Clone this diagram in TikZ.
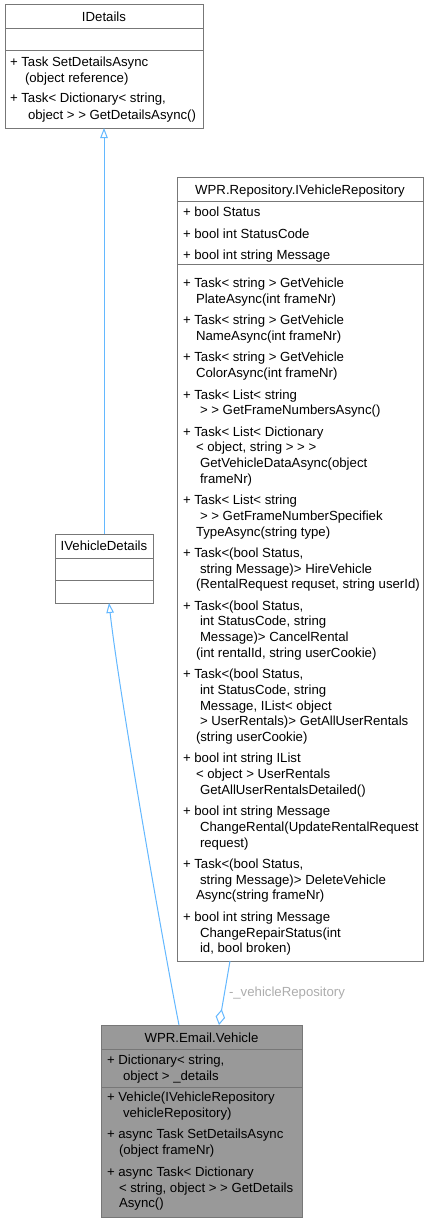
\documentclass[tikz,border=0pt]{standalone}
\usepackage{fontspec}
\setmainfont{Liberation Sans}
\usetikzlibrary{arrows.meta}
\definecolor{boxborder}{HTML}{777777}
\definecolor{edgeblue}{HTML}{63B8FF}
\definecolor{lblgray}{HTML}{ADADAD}
\definecolor{curfill}{HTML}{999999}
\newcommand\tline[4]{\node[anchor=base west] (#1) at (#2,{#3+4.7}) {#4};}
\newcommand\tcenter[4]{\node[anchor=base] (#1) at (#2,{#3+4.7}) {#4};}
\begin{document}
\begin{tikzpicture}[x=1pt,y=-1pt,
  every node/.style={font=\fontsize{13.2}{15}\selectfont, inner sep=0pt, outer sep=0pt},
  classbox/.style={draw=boxborder, line width=1pt, anchor=north west},
  sepline/.style={draw=boxborder, line width=1pt},
  inh/.style={draw=edgeblue, line width=1pt, -{Triangle[open, length=10pt, width=7.5pt, line width=1pt]}},
  agg/.style={draw=edgeblue, line width=1pt, -{Diamond[open, length=16pt, width=9.5pt, line width=1pt]}},
  lbl/.style={text=lblgray, anchor=west}
]
\useasboundingbox (0,0) rectangle (429,1223);
\fill[white] (0,0) rectangle (429,1223);

% ---------- IDetails ----------
\node[classbox, fill=white, minimum width=198pt, minimum height=123pt] (idetails) at (5,5) {};
\draw[sepline] (5,29) -- (203,29);
\draw[sepline] (5,51) -- (203,51);
\tcenter{idt}{104}{17}{IDetails}
\tline{id1}{10}{62}{+ Task SetDetailsAsync}
\tline{id2}{25}{78}{(object reference)}
\tline{id3}{10}{98}{+ Task< Dictionary< string,}
\tline{id4}{28}{115}{object > > GetDetailsAsync()}

% ---------- IVehicleDetails ----------
\node[classbox, fill=white, minimum width=98pt, minimum height=69pt] (ivd) at (55,534) {};
\draw[sepline] (55,558) -- (153,558);
\draw[sepline] (55,580) -- (153,580);
\tcenter{ivdt}{104}{546}{IVehicleDetails}

% ---------- IVehicleRepository ----------
\node[classbox, fill=white, minimum width=246pt, minimum height=784pt] (repo) at (177,177) {};
\draw[sepline] (177,201) -- (423,201);
\draw[sepline] (177,264) -- (423,264);
\tcenter{rt}{300}{189.5}{WPR.Repository.IVehicleRepository}
\tline{ra1}{183}{212}{+ bool Status}
\tline{ra2}{183}{233.5}{+ bool int StatusCode}
\tline{ra3}{183}{255}{+ bool int string Message}
\tline{rm1}{183}{283}{+ Task< string > GetVehicle}
\tline{rm2}{196}{298.7}{PlateAsync(int frameNr)}
\tline{rm3}{183}{320.1}{+ Task< string > GetVehicle}
\tline{rm4}{196}{335.8}{NameAsync(int frameNr)}
\tline{rm5}{183}{357.2}{+ Task< string > GetVehicle}
\tline{rm6}{196}{372.9}{ColorAsync(int frameNr)}
\tline{rm7}{183}{394.3}{+ Task< List< string}
\tline{rm8}{200}{410}{> > GetFrameNumbersAsync()}
\tline{rm9}{183}{431.4}{+ Task< List< Dictionary}
\tline{rm10}{196}{447.1}{< object, string > > >}
\tline{rm11}{200}{462.8}{GetVehicleDataAsync(object}
\tline{rm12}{200}{478.5}{frameNr)}
\tline{rm13}{183}{499.9}{+ Task< List< string}
\tline{rm14}{200}{515.6}{> > GetFrameNumberSpecifiek}
\tline{rm15}{196}{531.3}{TypeAsync(string type)}
\tline{rm16}{183}{552.7}{+ Task<(bool Status,}
\tline{rm17}{200}{568.4}{string Message)> HireVehicle}
\tline{rm18}{196}{584.1}{(RentalRequest requset, string userId)}
\tline{rm19}{183}{605.5}{+ Task<(bool Status,}
\tline{rm20}{200}{621.2}{int StatusCode, string}
\tline{rm21}{200}{636.9}{Message)> CancelRental}
\tline{rm22}{196}{652.6}{(int rentalId, string userCookie)}
\tline{rm23}{183}{674}{+ Task<(bool Status,}
\tline{rm24}{200}{689.7}{int StatusCode, string}
\tline{rm25}{200}{705.4}{Message, IList< object}
\tline{rm26}{200}{721.1}{> UserRentals)> GetAllUserRentals}
\tline{rm27}{196}{736.8}{(string userCookie)}
\tline{rm28}{183}{758.2}{+ bool int string IList}
\tline{rm29}{196}{773.9}{< object > UserRentals}
\tline{rm30}{200}{789.6}{GetAllUserRentalsDetailed()}
\tline{rm31}{183}{811}{+ bool int string Message}
\tline{rm32}{200}{826.7}{ChangeRental(UpdateRentalRequest}
\tline{rm33}{200}{842.4}{request)}
\tline{rm34}{183}{863.8}{+ Task<(bool Status,}
\tline{rm35}{200}{879.5}{string Message)> DeleteVehicle}
\tline{rm36}{196}{895.2}{Async(string frameNr)}
\tline{rm37}{183}{916.6}{+ bool int string Message}
\tline{rm38}{200}{932.3}{ChangeRepairStatus(int}
\tline{rm39}{200}{948}{id, bool broken)}

% ---------- WPR.Email.Vehicle ----------
\node[classbox, fill=curfill, minimum width=201pt, minimum height=192pt] (veh) at (101,1025) {};
\draw[sepline] (101,1049) -- (302,1049);
\draw[sepline] (101,1087) -- (302,1087);
\tcenter{vt}{201.5}{1037.5}{WPR.Email.Vehicle}
\tline{va1}{107}{1060}{+ Dictionary< string,}
\tline{va2}{123}{1076}{object > \_details}
\tline{vm1}{107}{1097}{+ Vehicle(IVehicleRepository}
\tline{vm2}{123}{1113}{vehicleRepository)}
\tline{vm3}{107}{1134}{+ async Task SetDetailsAsync}
\tline{vm4}{119}{1150}{(object frameNr)}
\tline{vm5}{107}{1172}{+ async Task< Dictionary}
\tline{vm6}{119}{1188}{< string, object > > GetDetails}
\tline{vm7}{119}{1203}{Async()}

% ---------- connectors ----------
\draw[inh] (ivd.north) -- (idetails.south);
\draw[inh] ([xshift=-22.5pt]veh.north) .. controls (166,960) and (120,700) .. ([xshift=5pt]ivd.south);
\draw[agg] ([xshift=-70pt]repo.south) -- ([xshift=17.5pt]veh.north);
\node[lbl] (agglbl) at (229,993) {-\_vehicleRepository};
\end{tikzpicture}
\end{document}
